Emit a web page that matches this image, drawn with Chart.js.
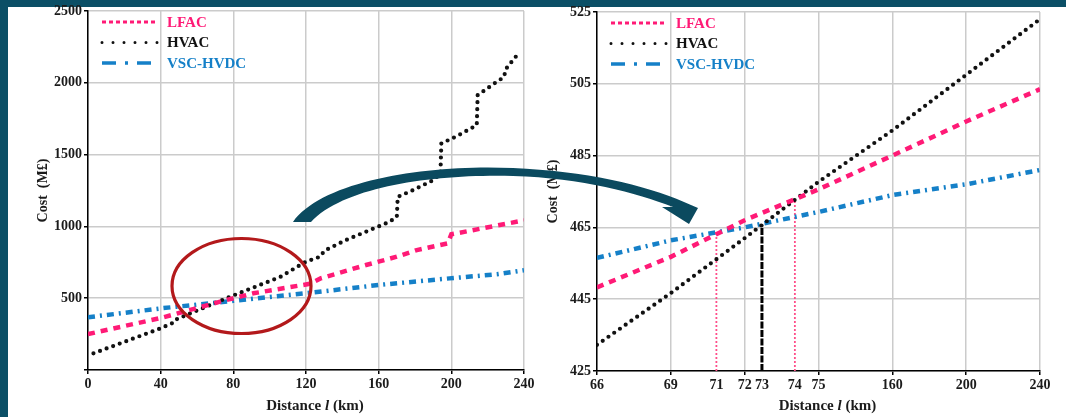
<!DOCTYPE html>
<html>
<head>
<meta charset="utf-8">
<script src="https://cdn.jsdelivr.net/npm/chart.js@4.4.1/dist/chart.umd.min.js"></script>
<style>
  body { margin:0; width:1066px; height:417px; background:#0b4f66; overflow:hidden; position:relative; }
  #panel { position:absolute; left:8px; top:7px; right:0; bottom:0; background:#fff; }
  canvas { position:absolute; top:0; }
  #left { left:0; }
  #right { left:530px; }
  #over { left:0; pointer-events:none; }
</style>
</head>
<body>
<div id="panel"></div>
<canvas id="left" width="548" height="417"></canvas>
<canvas id="right" width="536" height="417"></canvas>
<canvas id="over" width="1066" height="417"></canvas>
<script>
// ---- left panel, distance 0..240 km ----
var lfacLeftKm   = [0, 40, 76, 91, 122, 128, 153, 170, 181, 198, 200, 240];
var lfacLeftCost = [250, 362, 487, 534, 600, 638, 731, 789, 835, 882, 945, 1042];
var hvacLeftKm   = [3, 40, 48, 49, 76, 106, 116, 120, 128, 130, 142, 153, 166, 170, 170.5, 179, 190, 194, 194.5, 203, 214, 214.5, 225, 229, 230, 236];
var hvacLeftCost = [116, 290, 335, 355, 499, 649, 725, 754, 790, 830, 905, 963, 1032, 1067, 1206, 1253, 1322, 1369, 1578, 1628, 1705, 1914, 2007, 2040, 2096, 2190];
var vscLeftKm    = [0, 40, 80, 124, 160, 199, 226, 240];
var vscLeftCost  = [367, 429, 482, 540, 592, 638, 668, 695];

// ---- right panel (zoom), axis is in grid-column units ----
var rightColumnLabels = ['66', '69', '72', '75', '160', '200', '240'];
var rightMarkerLabels = ['71', '73', '74'];
var rightMarkerAt     = [1.617, 2.234, 2.68];
var rightMarkerTop    = [463.5, 465.8, 472.7];
var lfacRight = [448.3, 456.8, 467, 475.6, 485, 494.5, 503.5];
var hvacRight = [432.3, 446.7, 462, 477.7, 492, 507.5, 523];
var vscRight  = [456.5, 461.4, 465, 469.3, 474, 477, 481];

var FONT = "'Liberation Serif', 'Times New Roman', serif";
var GRID = '#cbcbcb';
var PINK = '#ff1a76', BLUE = '#1580c8', BLACK = '#111';

Chart.defaults.font.family = FONT;

function pts(xs, ys) {
    return xs.map(function (x, i) { return { x: x, y: ys[i] }; });
}

var decor = {
    id: 'decor',
    afterDraw: function (chart) {
        var a = chart.chartArea, c = chart.ctx;
        var rows = chart.data.datasets.filter(function (d) { return d.legendDash; });
        rows.forEach(function (d, i) {
            var y = a.top + 11 + i * 20.5;
            c.save();
            c.strokeStyle = d.borderColor;
            c.lineWidth = d.legendWidth;
            c.lineCap = d.legendCap || 'butt';
            c.setLineDash(d.legendDash);
            c.beginPath();
            c.moveTo(a.left + 14, y);
            c.lineTo(a.left + 70, y);
            c.stroke();
            c.setLineDash([]);
            c.fillStyle = d.textColor;
            c.font = 'bold 15px ' + FONT;
            c.textBaseline = 'middle';
            c.fillText(d.label, a.left + 79, y + 1);
            c.restore();
        });
        // x axis title with italic l
        var parts = [['Distance ', 'bold'], ['l', 'italic bold'], [' (km)', 'bold']];
        c.save();
        c.fillStyle = '#1b1b1b';
        c.textBaseline = 'middle';
        var w = 0;
        parts.forEach(function (p) { c.font = p[1] + ' 15px ' + FONT; w += c.measureText(p[0]).width; });
        var x = (a.left + a.right) / 2 + 9 - w / 2;
        parts.forEach(function (p) {
            c.font = p[1] + ' 15px ' + FONT;
            c.fillText(p[0], x, 406);
            x += c.measureText(p[0]).width;
        });
        c.restore();
    }
};

function seriesSet(lfac, hvac, vsc) {
    return [
        { label: 'LFAC', data: lfac, borderColor: PINK, borderWidth: 4.5, borderDash: [7, 6],
          legendDash: [4, 3], legendWidth: 3, textColor: PINK },
        { label: 'HVAC', data: hvac, borderColor: BLACK, borderWidth: 4.2, borderDash: [0, 7], borderCapStyle: 'round',
          legendDash: [0, 11], legendWidth: 3, legendCap: 'round', textColor: BLACK },
        { label: 'VSC-HVDC', data: vsc, borderColor: BLUE, borderWidth: 4.5, borderDash: [7, 5, 2, 5],
          legendDash: [14, 9, 3, 9], legendWidth: 3.5, textColor: BLUE }
    ];
}

function tickFont() { return { size: 14, weight: 'bold', family: FONT }; }

function makeChart(id, cfg) {
    return new Chart(document.getElementById(id), {
        type: 'line',
        data: { datasets: cfg.datasets },
        options: {
            responsive: false,
            animation: false,
            events: [],
            layout: { padding: cfg.padding },
            elements: { point: { radius: 0 }, line: { tension: 0 } },
            plugins: { legend: { display: false }, tooltip: { enabled: false } },
            scales: {
                x: Object.assign({
                    type: 'linear',
                    border: { color: '#000', width: 1.5 },
                    grid: { color: GRID, lineWidth: 1.5, tickColor: '#000', tickLength: 4 },
                    afterFit: function (s) { s.height = cfg.xHeight; }
                }, cfg.x),
                y: {
                    type: 'linear',
                    min: cfg.yMin, max: cfg.yMax,
                    border: { color: '#000', width: 1.5 },
                    grid: { color: GRID, lineWidth: 1.5, tickColor: '#000', tickLength: 4 },
                    ticks: { stepSize: cfg.yStep, font: tickFont(), color: '#1b1b1b', padding: 2,
                             callback: cfg.yCallback },
                    title: { display: true, text: 'Cost  (M\u00a3)', color: '#1b1b1b',
                             font: { size: 14, weight: 'bold', family: FONT },
                             padding: { top: cfg.yTitlePad, bottom: 0 } },
                    afterFit: function (s) { s.width = cfg.yWidth; }
                }
            }
        },
        plugins: [decor]
    });
}

// left chart
makeChart('left', {
    datasets: seriesSet(pts(lfacLeftKm, lfacLeftCost), pts(hvacLeftKm, hvacLeftCost), pts(vscLeftKm, vscLeftCost)),
    padding: { left: 0, top: 11, right: 24, bottom: 0 },
    xHeight: 47, yWidth: 88, yTitlePad: 34.6,
    yMin: 0, yMax: 2500, yStep: 500,
    yCallback: function (v) { return v === 0 ? '' : v; },
    x: {
        min: 0, max: 240,
        ticks: { stepSize: 40, font: tickFont(), color: '#1b1b1b', padding: 2, maxRotation: 0, autoSkip: false }
    }
});

// right chart
var colPos = rightColumnLabels.map(function (l, i) { return i; });
var tickList = colPos.map(function (p, i) { return { v: p, t: rightColumnLabels[i] }; })
    .concat(rightMarkerAt.map(function (p, i) { return { v: p, t: rightMarkerLabels[i] }; }))
    .sort(function (a, b) { return a.v - b.v; });

function isMarker(ctx) { return ctx.tick && rightMarkerAt.indexOf(ctx.tick.value) >= 0; }

var rightSets = seriesSet(pts(colPos, lfacRight), pts(colPos, hvacRight), pts(colPos, vscRight));
var markerStyle = [
    { color: '#ff4f8a', width: 1.8, dash: [2, 2] },
    { color: '#000', width: 3, dash: [7, 1.5] },
    { color: '#ff4f8a', width: 1.8, dash: [2, 2] }
];
rightMarkerAt.forEach(function (p, i) {
    rightSets.push({
        data: [{ x: p, y: 425 }, { x: p, y: rightMarkerTop[i] }],
        borderColor: markerStyle[i].color, borderWidth: markerStyle[i].width, borderDash: markerStyle[i].dash
    });
});

makeChart('right', {
    datasets: rightSets,
    padding: { left: 0, top: 12, right: 26, bottom: 0 },
    xHeight: 46, yWidth: 67, yTitlePad: 15,
    yMin: 425, yMax: 525, yStep: 20,
    x: {
        min: 0, max: 6,
        afterBuildTicks: function (s) { s.ticks = tickList.map(function (t) { return { value: t.v }; }); },
        ticks: { font: tickFont(), color: '#1b1b1b', padding: 2, maxRotation: 0, autoSkip: false,
                 callback: function (v, i) { return tickList[i] ? tickList[i].t : ''; } },
        grid: {
            color: function (ctx) { return isMarker(ctx) ? 'rgba(0,0,0,0)' : GRID; },
            tickColor: function (ctx) { return isMarker(ctx) ? 'rgba(0,0,0,0)' : '#000'; },
            lineWidth: 1.5, tickLength: 4
        }
    }
});

// overlay: highlight ellipse and the zoom arrow
var o = document.getElementById('over').getContext('2d');
o.strokeStyle = '#b3191b';
o.lineWidth = 3.2;
o.beginPath();
o.ellipse(241.5, 286, 69.5, 47.5, 0, 0, Math.PI * 2);
o.stroke();

o.fillStyle = '#0b4a5f';
o.beginPath();
o.moveTo(293, 222);
o.bezierCurveTo(322, 180, 430, 164, 513, 168);
o.bezierCurveTo(585, 171, 645, 185, 684, 202);
o.lineTo(698, 208);
o.lineTo(689, 224);
o.lineTo(662, 207);
o.lineTo(673, 207);
o.bezierCurveTo(636, 193, 583, 178, 513, 176);
o.bezierCurveTo(435, 174, 345, 186, 311, 222);
o.closePath();
o.fill();
</script>
</body>
</html>
